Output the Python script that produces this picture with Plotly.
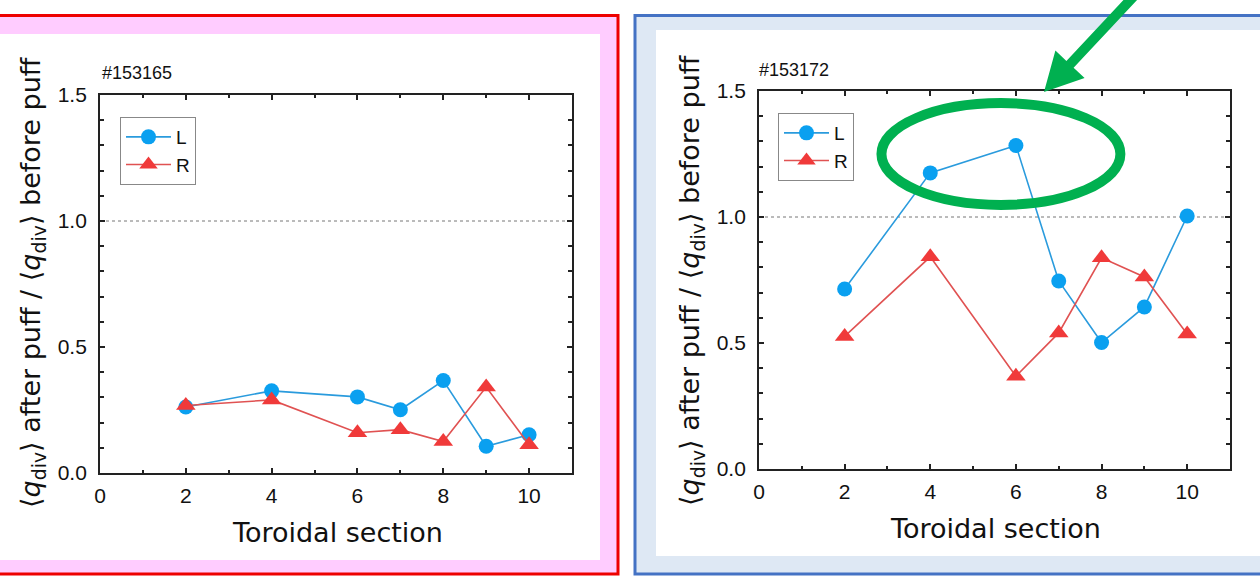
import plotly.graph_objects as go

# ---- data -------------------------------------------------------------
sections = [2, 4, 6, 7, 8, 9, 10]

shot_a = "#153165"
ratio_a_L = [0.262, 0.326, 0.302, 0.251, 0.367, 0.106, 0.152]
ratio_a_R = [0.268, 0.290, 0.160, 0.172, 0.125, 0.341, 0.112]

shot_b = "#153172"
ratio_b_L = [0.714, 1.175, 1.284, 0.746, 0.502, 0.643, 1.004]
ratio_b_R = [0.526, 0.842, 0.368, 0.540, 0.838, 0.762, 0.536]

ref_level = 1.0
x_ticks = [0, 2, 4, 6, 8, 10]

# ---- styling ----------------------------------------------------------
W, H = 1260, 576
FONT = "Liberation Sans, Arial, DejaVu Sans, sans-serif"
TITLE_FONT = "DejaVu Sans, Liberation Sans, sans-serif"
BLUE_M, BLUE_L = "#0AA0F0", "#2A9BDD"
RED_M, RED_L = "#F03A3A", "#E05252"


def px(x):
    return x / W


def py(y):
    return 1 - y / H


fig = go.Figure()


def add_pair(xa, ya, yL, yR, legend):
    fig.add_trace(go.Scatter(
        x=sections, y=yL, name="L", mode="lines+markers", xaxis=xa, yaxis=ya,
        legend=legend, cliponaxis=False,
        line=dict(color=BLUE_L, width=1.6),
        marker=dict(symbol="circle", size=15, color=BLUE_M)))
    fig.add_trace(go.Scatter(
        x=sections, y=yR, name="R", mode="lines+markers", xaxis=xa, yaxis=ya,
        legend=legend, cliponaxis=False,
        line=dict(color=RED_L, width=1.6),
        marker=dict(symbol="triangle-up", size=17, color=RED_M)))


add_pair("x", "y", ratio_a_L, ratio_a_R, "legend")
add_pair("x2", "y2", ratio_b_L, ratio_b_R, "legend2")

xaxis_style = dict(
    range=[0, 11], tickvals=x_ticks, ticks="inside", ticklen=5, tickwidth=1.5,
    tickcolor="#222", showline=True, linecolor="#222", linewidth=1.8,
    mirror="allticks", showgrid=False, zeroline=False, automargin=False,
    tickfont=dict(family=FONT, size=21, color="#111"),
    minor=dict(dtick=1, tick0=0, ticks="inside", ticklen=3, tickwidth=1.5, tickcolor="#222"),
    ticklabelstandoff=3,
)
yaxis_style = dict(
    range=[0, 1.5], dtick=0.5, tick0=0, tickformat=".1f", ticks="inside", ticklen=5,
    tickwidth=1.5, tickcolor="#222", showline=True, linecolor="#222", linewidth=1.8,
    mirror="allticks", showgrid=False, zeroline=False, automargin=False,
    tickfont=dict(family=FONT, size=21, color="#111"),
    minor=dict(dtick=0.1, tick0=0, ticks="inside", ticklen=4, tickwidth=1.5, tickcolor="#222"),
    ticklabelstandoff=7,
)

legend_style = dict(
    bgcolor="white", bordercolor="#888", borderwidth=1,
    font=dict(family=FONT, size=19, color="#111"),
    xanchor="left", yanchor="top", tracegroupgap=0, itemwidth=45,
)

fig.update_layout(
    width=W, height=H, margin=dict(l=0, r=0, t=0, b=0, autoexpand=False),
    paper_bgcolor="white", plot_bgcolor="white",
    xaxis=dict(domain=[px(100), px(572)], anchor="y", **xaxis_style),
    yaxis=dict(domain=[py(473), py(95)], anchor="x", **yaxis_style),
    xaxis2=dict(domain=[px(759), px(1230)], anchor="y2", **xaxis_style),
    yaxis2=dict(domain=[py(469), py(91)], anchor="x2", **yaxis_style),
    legend=dict(x=px(120), y=py(117), **legend_style),
    legend2=dict(x=px(778), y=py(113), **legend_style),
    showlegend=True,
)

shapes = []
# panel frames
shapes.append(dict(type="rect", xref="paper", yref="paper",
                   x0=px(-5), x1=px(618), y0=py(574), y1=py(15.5),
                   fillcolor="#FFCCFF", line=dict(color="#EE0000", width=3), layer="below"))
shapes.append(dict(type="rect", xref="paper", yref="paper",
                   x0=px(-5), x1=px(600), y0=py(560), y1=py(34),
                   fillcolor="white", line=dict(width=0), layer="below"))
shapes.append(dict(type="rect", xref="paper", yref="paper",
                   x0=px(635), x1=px(1270), y0=py(574), y1=py(15.5),
                   fillcolor="#DEE8F4", line=dict(color="#4472C4", width=3), layer="below"))
shapes.append(dict(type="rect", xref="paper", yref="paper",
                   x0=px(656), x1=px(1270), y0=py(556), y1=py(30),
                   fillcolor="white", line=dict(width=0), layer="below"))

# reference level (ratio = 1)
for xr, yr in (("x", "y"), ("x2", "y2")):
    shapes.append(dict(type="line", xref=xr, yref=yr, x0=0, x1=11,
                       y0=ref_level, y1=ref_level,
                       line=dict(color="#777", width=1, dash="dot"), layer="below"))

# highlight ring around sections 4-6 of the second shot
shapes.append(dict(type="circle", xref="x2", yref="y2",
                   x0=2.86, x1=8.44, y0=1.048, y1=1.452,
                   line=dict(color="#00B050", width=10), layer="above"))

# pointer arrow
arrow_pts = [(1044, 92), (1084.6, 78.0), (1073.6, 67.7), (1137.6, -0.6),
             (1130.4, -7.4), (1066.4, 60.9), (1055.4, 50.6)]
path = "M " + " L ".join(f"{px(x):.5f},{py(y):.5f}" for x, y in arrow_pts) + " Z"
shapes.append(dict(type="path", xref="paper", yref="paper", path=path,
                   fillcolor="#00B050", line=dict(width=0), layer="above"))
fig.update_layout(shapes=shapes)

ytitle = ("⟨<i>q</i><sub>div</sub>⟩ after puff / "
          "⟨<i>q</i><sub>div</sub>⟩ before puff")
annotations = []
for shot, sx, sy in ((shot_a, 100, 73), (shot_b, 757, 70)):
    annotations.append(dict(text=shot, xref="paper", yref="paper", x=px(sx), y=py(sy),
                            xanchor="left", yanchor="middle", showarrow=False,
                            font=dict(family=FONT, size=18, color="#111")))
for cx, cy in ((337, 532), (995, 528)):
    annotations.append(dict(text="Toroidal section", xref="paper", yref="paper",
                            x=px(cx), y=py(cy), xanchor="center", yanchor="middle",
                            showarrow=False, font=dict(family=TITLE_FONT, size=27, color="#111")))
for cx, cy in ((33, 282), (691, 280)):
    annotations.append(dict(text=ytitle, xref="paper", yref="paper", textangle=-90,
                            x=px(cx), y=py(cy), xanchor="center", yanchor="middle",
                            showarrow=False, font=dict(family=TITLE_FONT, size=27, color="#111")))
fig.update_layout(annotations=annotations)

# page without body margin so the figure fills the window exactly
fig.write_html(
    "out.html",
    post_script="document.body.style.margin='0';"
                "document.documentElement.style.overflow='hidden';",
)
